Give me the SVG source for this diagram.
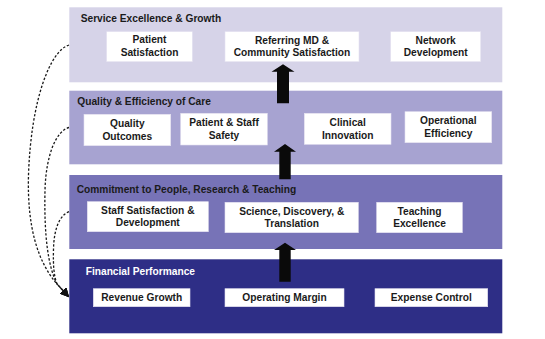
<svg xmlns="http://www.w3.org/2000/svg" width="545" height="339" viewBox="0 0 545 339">
<style>
.t{font-family:"Liberation Sans",Arial,sans-serif;font-weight:bold;font-size:10.2px;fill:#1a1a1a}
.bt{font-family:"Liberation Sans",Arial,sans-serif;font-weight:bold;font-size:10.2px;fill:#1a1a1a;text-anchor:middle}
.box{fill:#ffffff;stroke:#e4e2f0;stroke-width:0.6}
.arr{fill:#0a0a0a}
.dash{fill:none;stroke:#1a1a1a;stroke-width:1.3;stroke-dasharray:2.4 1.8}
</style>
<defs>
<marker id="ah" viewBox="0 0 10 10" refX="9" refY="5" markerWidth="9" markerHeight="9" markerUnits="userSpaceOnUse" orient="auto">
<path d="M0,0 L10,5 L0,10 z" fill="#111"/>
</marker>
</defs>
<rect width="545" height="339" fill="#ffffff"/>

<g id="band-service">
<rect x="69.3" y="7.3" width="433" height="75" fill="#d6d3e8"/>
<text class="t" x="80.7" y="21.7">Service Excellence &amp; Growth</text>
</g>
<g id="band-quality">
<rect x="69.3" y="90.7" width="433" height="73.6" fill="#a7a3d1"/>
<text class="t" x="77.3" y="105">Quality &amp; Efficiency of Care</text>
</g>
<g id="band-commitment">
<rect x="69.3" y="175" width="433" height="74" fill="#7773b7"/>
<text class="t" x="76.7" y="192.7">Commitment to People, Research &amp; Teaching</text>
</g>
<g id="band-financial">
<rect x="69.3" y="259.3" width="433" height="74" fill="#2e2e86"/>
<text class="t" x="85.7" y="275" style="fill:#ffffff">Financial Performance</text>
</g>

<g id="node-patient-satisfaction">
<rect class="box" x="106.7" y="31.7" width="85.6" height="30"/>
<text class="bt" x="149.5" y="43.3">Patient</text>
<text class="bt" x="149.5" y="55.7">Satisfaction</text>
</g>
<g id="node-referring-md">
<rect class="box" x="225" y="31.7" width="134" height="30"/>
<text class="bt" x="292" y="44">Referring MD &amp;</text>
<text class="bt" x="292" y="56.2">Community Satisfaction</text>
</g>
<g id="node-network-development">
<rect class="box" x="390.7" y="31.7" width="90" height="30"/>
<text class="bt" x="435.7" y="44.3">Network</text>
<text class="bt" x="435.7" y="56.3">Development</text>
</g>

<g id="node-quality-outcomes">
<rect class="box" x="84" y="114.3" width="86.7" height="31.4"/>
<text class="bt" x="127.3" y="127.3">Quality</text>
<text class="bt" x="127.3" y="140">Outcomes</text>
</g>
<g id="node-patient-staff-safety">
<rect class="box" x="180.7" y="113.3" width="86.6" height="31.7"/>
<text class="bt" x="224" y="126">Patient &amp; Staff</text>
<text class="bt" x="224" y="139.3">Safety</text>
</g>
<g id="node-clinical-innovation">
<rect class="box" x="304.3" y="113.3" width="86.7" height="31"/>
<text class="bt" x="347.7" y="125.7">Clinical</text>
<text class="bt" x="347.7" y="139">Innovation</text>
</g>
<g id="node-operational-efficiency">
<rect class="box" x="405" y="111.7" width="86.7" height="31"/>
<text class="bt" x="448.3" y="124">Operational</text>
<text class="bt" x="448.3" y="137.3">Efficiency</text>
</g>

<g id="node-staff-satisfaction">
<rect class="box" x="87.3" y="201.7" width="121" height="30"/>
<text class="bt" x="147.8" y="214">Staff Satisfaction &amp;</text>
<text class="bt" x="147.8" y="226.3">Development</text>
</g>
<g id="node-science-discovery">
<rect class="box" x="225" y="202.3" width="133.3" height="30.4"/>
<text class="bt" x="291.7" y="215">Science, Discovery, &amp;</text>
<text class="bt" x="291.7" y="227">Translation</text>
</g>
<g id="node-teaching-excellence">
<rect class="box" x="376.7" y="202.3" width="85.6" height="30.4"/>
<text class="bt" x="419.5" y="215">Teaching</text>
<text class="bt" x="419.5" y="227">Excellence</text>
</g>

<g id="node-revenue-growth">
<rect class="box" x="93.3" y="288.7" width="96.7" height="18"/>
<text class="bt" x="141.7" y="301">Revenue Growth</text>
</g>
<g id="node-operating-margin">
<rect class="box" x="225" y="288.7" width="119" height="18"/>
<text class="bt" x="284.5" y="301">Operating Margin</text>
</g>
<g id="node-expense-control">
<rect class="box" x="375" y="288.7" width="112.7" height="18"/>
<text class="bt" x="431.3" y="301">Expense Control</text>
</g>

<g id="connectors">
<polygon class="arr" points="283,64.3 294.5,71.7 289,71.7 289,103.3 277,103.3 277,71.7 271.5,71.7"/>
<polygon class="arr" points="285,144 296,151.7 290.7,151.7 290.7,179.3 279.3,179.3 279.3,151.7 274,151.7"/>
<polygon class="arr" points="285,242.7 296,250 290.7,250 290.7,281.7 279.3,281.7 279.3,250 274,250"/>
<path class="dash" d="M69,45 C50,51 31,100 28.5,175 C27,228 38,262 57,284 L68.5,296.5" marker-end="url(#ah)"/>
<path class="dash" d="M69,127.5 C56,131 46,155 45,190 C44,236 48,266 57,284 L68.5,296.5" marker-end="url(#ah)"/>
<path class="dash" d="M69,211.7 C60,215 54,228 53.5,249 C53,266 54,276 57,284 L68.5,296.5" marker-end="url(#ah)"/>
</g>
</svg>
